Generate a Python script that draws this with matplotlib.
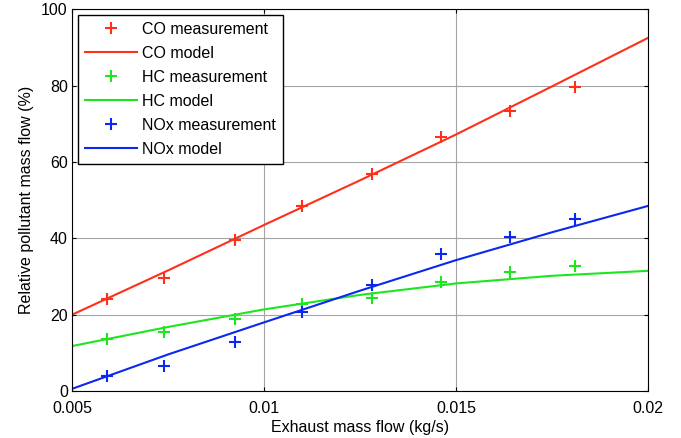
import matplotlib
matplotlib.use('Agg')
import matplotlib.pyplot as plt

plt.rcParams['font.family'] = ['Liberation Sans', 'DejaVu Sans']

# Measurement points
x_meas = [0.0059, 0.0074, 0.00925, 0.011, 0.0128, 0.0146, 0.0164, 0.0181]
co_meas = [24.1, 29.5, 39.6, 48.4, 56.8, 66.5, 73.4, 79.5]
hc_meas = [13.6, 15.4, 19.0, 22.7, 24.5, 28.5, 31.1, 32.7]
nox_meas = [4.0, 6.6, 12.8, 20.6, 27.8, 35.8, 40.3, 45.0]

# Model curves
x_model = [0.005, 0.0075, 0.01, 0.0125, 0.015, 0.0175, 0.02]
co_model = [20.0, 31.6, 43.5, 55.2, 67.2, 79.8, 92.5]
hc_model = [11.8, 16.8, 21.4, 25.2, 28.2, 30.2, 31.5]
nox_model = [0.6, 9.6, 18.0, 26.3, 34.3, 41.6, 48.5]

red = '#ff3019'
green = '#1ee61e'
blue = '#0a28f0'
fs = 11.5

fig = plt.figure(figsize=(6.81, 4.38), dpi=100)
ax = fig.add_axes([0.1057, 0.107, 0.846, 0.872])

ms = dict(marker='+', linestyle='none', markersize=9, markeredgewidth=1.5)
ax.plot(x_meas, co_meas, color=red, label='CO measurement', **ms)
ax.plot(x_model, co_model, color=red, lw=1.5, label='CO model')
ax.plot(x_meas, hc_meas, color=green, label='HC measurement', **ms)
ax.plot(x_model, hc_model, color=green, lw=1.5, label='HC model')
ax.plot(x_meas, nox_meas, color=blue, label='NOx measurement', **ms)
ax.plot(x_model, nox_model, color=blue, lw=1.5, label='NOx model')

ax.set_xlim(0.005, 0.02)
ax.set_ylim(0, 100)
ax.set_xticks([0.005, 0.01, 0.015, 0.02])
ax.set_xticklabels(['0.005', '0.01', '0.015', '0.02'])
ax.set_yticks([0, 20, 40, 60, 80, 100])
ax.grid(True, color='#a4a4a4', lw=0.8)
ax.tick_params(direction='in', length=3, labelsize=fs, top=True, right=True,
               colors='black')
ax.tick_params(axis='x', pad=7)
ax.tick_params(axis='y', pad=3)
for s in ax.spines.values():
    s.set_linewidth(0.8)

ax.set_xlabel('Exhaust mass flow (kg/s)', fontsize=fs, labelpad=3)
ax.set_ylabel('Relative pollutant mass flow (%)', fontsize=fs, labelpad=5)

leg = ax.legend(loc='upper left', fontsize=fs, frameon=True, fancybox=False,
                edgecolor='black', framealpha=1, borderaxespad=0.35,
                handlelength=3.3, handletextpad=0.3, labelspacing=0.56,
                borderpad=0.45)
leg.get_frame().set_linewidth(1.0)

plt.savefig('out.png', dpi=100)
